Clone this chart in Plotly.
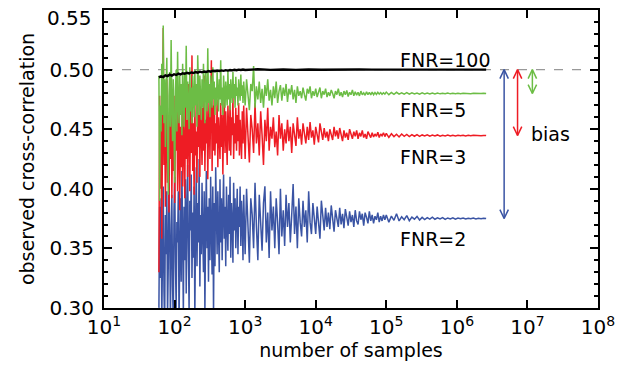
import numpy as np
import plotly.graph_objects as go

# ---- sample-count grids (independent variable) ----
n_a, n_b, n_c = 120, 100, 40
samples_a = np.logspace(np.log10(60), 3, n_a, endpoint=False)
samples_b = np.logspace(3, 5, n_b, endpoint=False)
samples_c = np.logspace(5, np.log10(2.6e6), n_c)
samples = np.concatenate([samples_a, samples_b, samples_c])
samples_black = np.concatenate([np.logspace(np.log10(60), 3, 40, endpoint=False),
                                np.logspace(3, np.log10(2.6e6), 20)])

# ---- observed cross-correlation, FNR=2 (blue) ----
fnr2_a = [
    0.300, 0.385, 0.325, 0.392, 0.288, 0.360, 0.402, 0.315, 0.285, 0.378,
    0.345, 0.398, 0.292, 0.335, 0.405, 0.370, 0.290, 0.352, 0.395, 0.318,
    0.288, 0.382, 0.410, 0.338, 0.300, 0.372, 0.355, 0.398, 0.286, 0.345,
    0.392, 0.322, 0.415, 0.360, 0.295, 0.385, 0.340, 0.408, 0.312, 0.375,
    0.420, 0.348, 0.298, 0.390, 0.365, 0.412, 0.325, 0.380, 0.342, 0.402,
    0.292, 0.368, 0.418, 0.335, 0.388, 0.355, 0.425, 0.318, 0.378, 0.345,
    0.405, 0.362, 0.330, 0.398, 0.296, 0.372, 0.415, 0.350, 0.385, 0.322,
    0.392, 0.340, 0.410, 0.365, 0.328, 0.402, 0.295, 0.388, 0.335, 0.418,
    0.368, 0.345, 0.398, 0.375, 0.330, 0.408, 0.355, 0.392, 0.340, 0.380,
    0.412, 0.358, 0.385, 0.335, 0.402, 0.370, 0.348, 0.395, 0.362, 0.410,
    0.342, 0.388, 0.372, 0.338, 0.405, 0.365, 0.392, 0.350, 0.378, 0.400,
    0.345, 0.385, 0.368, 0.402, 0.352, 0.390, 0.372, 0.340, 0.395, 0.365,
]
fnr2_b = [
    0.345, 0.400, 0.362, 0.338, 0.392, 0.378, 0.350, 0.405, 0.368, 0.340,
    0.395, 0.372, 0.348, 0.388, 0.402, 0.355, 0.380, 0.342, 0.398, 0.365,
    0.385, 0.350, 0.392, 0.372, 0.345, 0.400, 0.360, 0.382, 0.352, 0.395,
    0.368, 0.388, 0.355, 0.378, 0.404, 0.362, 0.385, 0.350, 0.392, 0.372,
    0.360, 0.390, 0.368, 0.382, 0.355, 0.398, 0.372, 0.362, 0.388, 0.375,
    0.362, 0.385, 0.370, 0.358, 0.390, 0.375, 0.365, 0.384, 0.368, 0.380,
    0.366, 0.386, 0.372, 0.364, 0.382, 0.376, 0.368, 0.384, 0.370, 0.379,
    0.367, 0.383, 0.374, 0.369, 0.381, 0.372, 0.378, 0.368, 0.382, 0.373,
    0.370, 0.381, 0.374, 0.379, 0.369, 0.380, 0.376, 0.371, 0.381, 0.373,
    0.378, 0.371, 0.377, 0.374, 0.380, 0.372, 0.377, 0.373, 0.378, 0.374,
]
fnr2_c = [
    0.3780, 0.3720, 0.3770, 0.3735, 0.3790, 0.3730, 0.3765, 0.3740, 0.3775, 0.3732,
    0.3762, 0.3745, 0.3768, 0.3738, 0.3760, 0.3742, 0.3758, 0.3745, 0.3762, 0.3744,
    0.3756, 0.3746, 0.3758, 0.3743, 0.3755, 0.3747, 0.3756, 0.3745, 0.3754, 0.3748,
    0.3755, 0.3746, 0.3753, 0.3748, 0.3754, 0.3747, 0.3752, 0.3749, 0.3753, 0.3750,
]

# ---- FNR=3 (red) ----
fnr3_a = [
    0.330, 0.478, 0.400, 0.462, 0.358, 0.445, 0.535, 0.420, 0.470, 0.385,
    0.455, 0.492, 0.405, 0.440, 0.380, 0.468, 0.425, 0.498, 0.392, 0.450,
    0.415, 0.478, 0.388, 0.460, 0.432, 0.500, 0.398, 0.445, 0.470, 0.382,
    0.452, 0.418, 0.485, 0.402, 0.465, 0.438, 0.392, 0.475, 0.425, 0.458,
    0.410, 0.488, 0.440, 0.398, 0.468, 0.430, 0.512, 0.415, 0.455, 0.395,
    0.472, 0.428, 0.448, 0.405, 0.480, 0.435, 0.462, 0.410, 0.475, 0.442,
    0.420, 0.468, 0.432, 0.495, 0.415, 0.458, 0.438, 0.472, 0.408, 0.452,
    0.478, 0.425, 0.462, 0.508, 0.415, 0.470, 0.432, 0.485, 0.428, 0.455,
    0.438, 0.475, 0.418, 0.460, 0.445, 0.425, 0.472, 0.435, 0.462, 0.412,
    0.455, 0.478, 0.430, 0.465, 0.442, 0.420, 0.470, 0.448, 0.432, 0.475,
    0.428, 0.460, 0.445, 0.478, 0.425, 0.455, 0.438, 0.468, 0.432, 0.462,
    0.440, 0.472, 0.428, 0.458, 0.445, 0.425, 0.465, 0.438, 0.470, 0.435,
]
fnr3_b = [
    0.425, 0.468, 0.440, 0.422, 0.462, 0.450, 0.430, 0.472, 0.438, 0.455,
    0.428, 0.465, 0.445, 0.420, 0.458, 0.440, 0.468, 0.432, 0.452, 0.442,
    0.460, 0.435, 0.448, 0.428, 0.462, 0.442, 0.455, 0.432, 0.450, 0.438,
    0.458, 0.440, 0.452, 0.430, 0.455, 0.445, 0.436, 0.460, 0.442, 0.450,
    0.437, 0.455, 0.446, 0.438, 0.452, 0.441, 0.456, 0.443, 0.449, 0.437,
    0.452, 0.444, 0.439, 0.455, 0.446, 0.441, 0.451, 0.443, 0.448, 0.440,
    0.450, 0.445, 0.441, 0.452, 0.444, 0.449, 0.442, 0.451, 0.446, 0.440,
    0.449, 0.443, 0.447, 0.441, 0.450, 0.445, 0.442, 0.448, 0.444, 0.449,
    0.442, 0.447, 0.444, 0.449, 0.443, 0.446, 0.442, 0.448, 0.445, 0.443,
    0.4470, 0.4435, 0.4460, 0.4440, 0.4475, 0.4430, 0.4460, 0.4445, 0.4470, 0.4438,
]
fnr3_c = [
    0.4465, 0.4432, 0.4462, 0.4438, 0.4458, 0.4435, 0.4460, 0.4440, 0.4456, 0.4438,
    0.4455, 0.4441, 0.4454, 0.4440, 0.4452, 0.4443, 0.4453, 0.4441, 0.4451, 0.4443,
    0.4452, 0.4442, 0.4450, 0.4444, 0.4451, 0.4443, 0.4450, 0.4444, 0.4449, 0.4445,
    0.4450, 0.4444, 0.4449, 0.4445, 0.4449, 0.4446, 0.4448, 0.4446, 0.4448, 0.4447,
]

# ---- FNR=5 (green) ----
fnr5_a = [
    0.495, 0.390, 0.470, 0.448, 0.505, 0.462, 0.537, 0.455, 0.492, 0.435,
    0.485, 0.510, 0.442, 0.395, 0.478, 0.498, 0.452, 0.525, 0.468, 0.440,
    0.492, 0.458, 0.405, 0.482, 0.500, 0.448, 0.515, 0.470, 0.455, 0.495,
    0.462, 0.488, 0.445, 0.505, 0.475, 0.452, 0.498, 0.468, 0.520, 0.458,
    0.490, 0.472, 0.450, 0.502, 0.465, 0.485, 0.455, 0.495, 0.478, 0.460,
    0.500, 0.470, 0.488, 0.452, 0.512, 0.475, 0.462, 0.495, 0.480, 0.458,
    0.492, 0.468, 0.505, 0.475, 0.455, 0.498, 0.482, 0.465, 0.518, 0.472,
    0.488, 0.460, 0.495, 0.478, 0.468, 0.502, 0.475, 0.490, 0.462, 0.485,
    0.470, 0.498, 0.480, 0.465, 0.492, 0.475, 0.508, 0.470, 0.485, 0.462,
    0.495, 0.478, 0.468, 0.490, 0.482, 0.470, 0.500, 0.475, 0.488, 0.466,
    0.492, 0.480, 0.472, 0.498, 0.476, 0.488, 0.468, 0.494, 0.478, 0.485,
    0.470, 0.492, 0.482, 0.474, 0.496, 0.478, 0.487, 0.472, 0.490, 0.480,
]
fnr5_b = [
    0.470, 0.492, 0.478, 0.466, 0.488, 0.482, 0.503, 0.468, 0.486, 0.475,
    0.490, 0.472, 0.484, 0.468, 0.487, 0.478, 0.492, 0.474, 0.483, 0.470,
    0.486, 0.476, 0.490, 0.472, 0.482, 0.487, 0.474, 0.485, 0.478, 0.488,
    0.473, 0.484, 0.479, 0.487, 0.475, 0.483, 0.472, 0.486, 0.478, 0.482,
    0.476, 0.485, 0.479, 0.474, 0.484, 0.480, 0.486, 0.476, 0.482, 0.478,
    0.484, 0.477, 0.481, 0.485, 0.476, 0.482, 0.479, 0.484, 0.477, 0.481,
    0.478, 0.483, 0.480, 0.476, 0.482, 0.479, 0.484, 0.478, 0.481, 0.477,
    0.4820, 0.4790, 0.4825, 0.4775, 0.4810, 0.4790, 0.4830, 0.4780, 0.4815, 0.4785,
    0.4810, 0.4780, 0.4820, 0.4790, 0.4805, 0.4785, 0.4815, 0.4790, 0.4810, 0.4788,
    0.4812, 0.4790, 0.4808, 0.4792, 0.4810, 0.4795, 0.4808, 0.4793, 0.4806, 0.4795,
]
fnr5_c = [
    0.4812, 0.4790, 0.4808, 0.4793, 0.4810, 0.4794, 0.4806, 0.4795, 0.4807, 0.4794,
    0.4805, 0.4796, 0.4804, 0.4795, 0.4805, 0.4797, 0.4803, 0.4796, 0.4804, 0.4797,
    0.4803, 0.4797, 0.4802, 0.4798, 0.4803, 0.4797, 0.4802, 0.4798, 0.4802, 0.4798,
    0.4802, 0.4799, 0.4801, 0.4798, 0.4801, 0.4799, 0.4801, 0.4799, 0.4801, 0.4800,
]

# ---- FNR=100 (black) ----
fnr100 = [
    0.4935, 0.4945, 0.4938, 0.4952, 0.4946, 0.4958, 0.4950, 0.4962, 0.4956, 0.4967,
    0.4960, 0.4970, 0.4965, 0.4974, 0.4968, 0.4977, 0.4972, 0.4980, 0.4975, 0.4983,
    0.4978, 0.4985, 0.4981, 0.4988, 0.4983, 0.4990, 0.4986, 0.4992, 0.4988, 0.4994,
    0.4990, 0.4996, 0.4992, 0.4997, 0.4994, 0.4999, 0.4995, 0.5000, 0.4997, 0.5001,
    0.4997, 0.5003, 0.4998, 0.5002, 0.4998, 0.5002, 0.4999, 0.5001, 0.4999, 0.5001,
    0.5000, 0.5001, 0.5000, 0.5000, 0.5000, 0.5000, 0.5000, 0.5000, 0.5000, 0.5000,
]

fnr2 = fnr2_a + fnr2_b + fnr2_c
fnr3 = fnr3_a + fnr3_b + fnr3_c
fnr5 = fnr5_a + fnr5_b + fnr5_c

true_corr = 0.50
labels = ["FNR=2", "FNR=3", "FNR=5", "FNR=100"]
x_ticks = [10, 100, 1e3, 1e4, 1e5, 1e6, 1e7, 1e8]
x_ticktext = ["10<sup>%d</sup>" % i for i in range(1, 9)]
y_ticks = [0.30, 0.35, 0.40, 0.45, 0.50, 0.55]
y_ticktext = ["0.30", "0.35", "0.40", "0.45", "0.50", ""]
y_top_label = "0.55"

BLUE = "#3a54a4"
RED = "#ee1c24"
GREEN = "#6cbd45"
FONT = "DejaVu Sans"

fig = go.Figure()
for xs, ys, col, w in [(samples, fnr2, BLUE, 1.5), (samples, fnr3, RED, 1.5),
                       (samples, fnr5, GREEN, 1.5), (samples_black, fnr100, "black", 2.4)]:
    fig.add_trace(go.Scatter(x=xs, y=ys, mode="lines",
                             line=dict(color=col, width=w), showlegend=False,
                             hoverinfo="skip"))

# bias arrows (double-headed, open V heads), spanning true value -> converged value
arrow_logx = [6.67, 6.86, 7.07]
head_dx = 0.06   # decades
head_dy = 0.0075
for series, col, lx in [(fnr2, BLUE, arrow_logx[0]), (fnr3, RED, arrow_logx[1]), (fnr5, GREEN, arrow_logx[2])]:
    top = true_corr
    bot = series[-1]
    xc = 10 ** lx
    xl = 10 ** (lx - head_dx)
    xr = 10 ** (lx + head_dx)
    dy = min(head_dy, (top - bot) * 0.4)
    xs = [xc, xc, None, xl, xc, xr, None, xl, xc, xr]
    ys = [top, bot, None, top - dy, top, top - dy, None, bot + dy, bot, bot + dy]
    fig.add_trace(go.Scatter(x=xs, y=ys, mode="lines", line=dict(color=col, width=1.5),
                             showlegend=False, hoverinfo="skip"))

fig.add_shape(type="line", xref="paper", x0=0, x1=1, yref="y", y0=true_corr, y1=true_corr,
              line=dict(color="#999999", width=1.2, dash="dash"), layer="below")

label_font = dict(family=FONT, size=19, color="black")
label_pos = [(5.66, 0.3576), (5.66, 0.4263), (5.66, 0.4665), (5.84, 0.5084)]
for txt, (lx, ly) in zip(labels, label_pos):
    fig.add_annotation(x=lx, y=ly, text=txt, showarrow=False, font=label_font,
                       xanchor="center", yanchor="middle")
fig.add_annotation(x=7.32, y=0.4456, text="bias", showarrow=False, font=label_font,
                   xanchor="center", yanchor="middle")

# top y tick label, nudged down so it stays inside the page (as in the original)
fig.add_annotation(xref="paper", x=0, y=y_ticks[-1], yref="y", text=y_top_label,
                   showarrow=False, xanchor="right", yanchor="middle", xshift=-10, yshift=-8,
                   font=dict(family=FONT, size=20, color="black"))

axis_common = dict(showline=True, linecolor="black", linewidth=2, mirror="allticks",
                   ticks="inside", tickcolor="black", tickwidth=1.5, showgrid=False,
                   zeroline=False, automargin=False,
                   tickfont=dict(family=FONT, size=20, color="black"))

fig.update_xaxes(type="log", range=[1, 8], tickvals=x_ticks, ticktext=x_ticktext,
                 ticklen=8,
                 title=dict(text="number of samples", font=dict(family=FONT, size=19, color="black"),
                            standoff=4),
                 **axis_common)
fig.update_yaxes(range=[0.2999, 0.5501], tickvals=y_ticks, ticktext=y_ticktext, ticklen=8,
                 ticklabelstandoff=4,
                 minor=dict(dtick=0.01, ticks="inside", ticklen=4, tickcolor="black", tickwidth=1.5),
                 title=dict(text="observed cross-correlation", font=dict(family=FONT, size=19, color="black"),
                            standoff=10),
                 **axis_common)

fig.update_layout(width=630, height=369, margin=dict(l=104, r=32, t=10, b=61),
                  plot_bgcolor="white", paper_bgcolor="white", showlegend=False)

fig.write_html("out.html", config={"displayModeBar": False},
               post_script="document.body.style.margin='0';")
